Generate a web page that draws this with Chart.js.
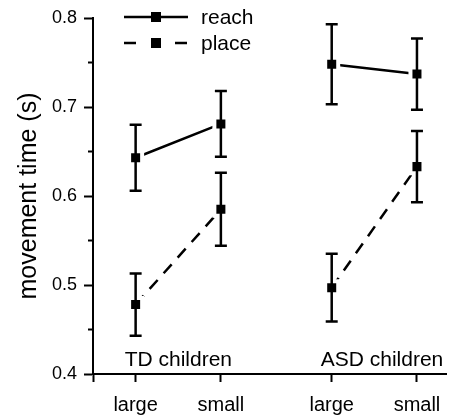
<!DOCTYPE html>
<html lang="en">
  <head>
    <meta charset="UTF-8" />
    <title>Movement time</title>
    <style>
      body { margin: 0; padding: 0; background: #fff; }
      #wrap { width: 460px; height: 417px; }
    </style>
    <script src="https://cdn.jsdelivr.net/npm/chart.js"></script>
  </head>
  <body>
    <div id="wrap"><canvas id="myChart" width="460" height="417"></canvas></div>
    <script>
      // data
      const categories = ['large', 'small', 'large', 'small'];
      const xPos = [1, 2, 3.3, 4.3];
      const groups = ['TD children', 'ASD children'];
      const groupStart = [0, 2]; // index of first category of each group
      const seriesNames = ['reach', 'place'];
      const reach = [0.643, 0.681, 0.748, 0.737];
      const reachErr = [0.037, 0.037, 0.045, 0.040];
      const place = [0.478, 0.585, 0.497, 0.633];
      const placeErr = [0.035, 0.041, 0.038, 0.040];
      const yTicks = [0.4, 0.5, 0.6, 0.7, 0.8];
      const yMinor = [0.45, 0.55, 0.65, 0.75];

      const FONT = 'Arial, "Liberation Sans", sans-serif';

      // one gap point between the groups so the lines are not joined
      function toPoints(vals, errs) {
        const pts = [];
        for (let i = 0; i < vals.length; i++) {
          if (i === 2) pts.push({ x: (xPos[1] + xPos[2]) / 2, y: null });
          pts.push({ x: xPos[i], y: vals[i], err: errs[i] });
        }
        return pts;
      }

      const dashes = [[], [12, 9]];
      const legendDashes = [[], [12, 39]];

      const errorBars = {
        id: 'errorBars',
        afterDatasetsDraw(chart) {
          const ctx = chart.ctx;
          const xs = chart.scales.x;
          const ys = chart.scales.y;
          ctx.save();
          ctx.strokeStyle = '#000';
          ctx.lineWidth = 2.5;
          chart.data.datasets.forEach((ds) => {
            ds.data.forEach((p) => {
              if (p.y === null) return;
              const x = xs.getPixelForValue(p.x);
              const top = ys.getPixelForValue(p.y + p.err);
              const bot = ys.getPixelForValue(p.y - p.err);
              ctx.beginPath();
              ctx.moveTo(x, top);
              ctx.lineTo(x, bot);
              ctx.moveTo(x - 6, top);
              ctx.lineTo(x + 6, top);
              ctx.moveTo(x - 6, bot);
              ctx.lineTo(x + 6, bot);
              ctx.stroke();
            });
          });
          ctx.restore();
        },
      };

      const extras = {
        id: 'extras',
        afterDraw(chart) {
          const ctx = chart.ctx;
          const xs = chart.scales.x;
          const ys = chart.scales.y;
          const left = chart.chartArea.left;
          ctx.save();
          ctx.strokeStyle = '#000';
          ctx.lineWidth = 2;
          // minor ticks on the y axis
          yMinor.forEach((v) => {
            const y = ys.getPixelForValue(v);
            ctx.beginPath();
            ctx.moveTo(left - 5, y);
            ctx.lineTo(left, y);
            ctx.stroke();
          });

          // group labels
          ctx.fillStyle = '#000';
          ctx.font = '21px ' + FONT;
          ctx.textAlign = 'left';
          ctx.textBaseline = 'middle';
          groups.forEach((g, i) => {
            const x = xs.getPixelForValue(xPos[groupStart[i]]) - 11;
            ctx.fillText(g, x, 360);
          });

          // legend
          ctx.lineWidth = 2.5;
          seriesNames.forEach((name, i) => {
            const y = 17 + i * 26;
            ctx.setLineDash(legendDashes[i]);
            ctx.beginPath();
            ctx.moveTo(124, y);
            ctx.lineTo(188, y);
            ctx.stroke();
            ctx.setLineDash([]);
            ctx.fillRect(151, y - 5, 10, 10);
            ctx.fillText(name, 201, y + 1);
          });
          ctx.restore();
        },
      };

      new Chart(document.getElementById('myChart'), {
        type: 'line',
        data: {
          datasets: [
            { label: seriesNames[0], data: toPoints(reach, reachErr), borderDash: dashes[0] },
            { label: seriesNames[1], data: toPoints(place, placeErr), borderDash: dashes[1] },
          ].map((d) => Object.assign(d, {
            borderColor: '#000',
            borderWidth: 2.5,
            backgroundColor: '#000',
            pointStyle: 'rect',
            pointRadius: 9.2,
            pointBorderColor: '#fff',
            pointBorderWidth: 4,
            pointBackgroundColor: '#000',
            spanGaps: false,
            tension: 0,
          })),
        },
        options: {
          responsive: false,
          animation: false,
          devicePixelRatio: 1,
          layout: { padding: { top: 18, right: 0, left: 0, bottom: 0 } },
          plugins: {
            legend: { display: false },
            tooltip: { enabled: false },
          },
          scales: {
            x: {
              type: 'linear',
              min: 0.5,
              max: 4.65,
              afterBuildTicks(scale) {
                scale.ticks = [{ value: 0.5 }].concat(xPos.map((v) => ({ value: v })));
              },
              afterFit(scale) { scale.height = 43; },
              ticks: {
                color: '#000',
                font: { family: FONT, size: 20 },
                padding: 11,
                maxRotation: 0,
                autoSkip: false,
                callback(value) {
                  const i = xPos.indexOf(value);
                  return i < 0 ? '' : categories[i];
                },
              },
              grid: { drawOnChartArea: false, tickLength: 8, tickColor: '#000', tickWidth: 2 },
              border: { color: '#000', width: 2 },
            },
            y: {
              min: 0.4,
              max: 0.8,
              afterBuildTicks(scale) {
                scale.ticks = yTicks.map((v) => ({ value: v }));
              },
              afterFit(scale) { scale.width = 93; },
              ticks: {
                color: '#000',
                font: { family: FONT, size: 18 },
                padding: 7,
                callback: (v) => v.toFixed(1),
              },
              grid: { drawOnChartArea: false, tickLength: 9, tickColor: '#000', tickWidth: 2 },
              border: { color: '#000', width: 2 },
              title: {
                display: true,
                text: 'movement time (s)',
                color: '#000',
                font: { family: FONT, size: 25 },
                padding: { top: 14, bottom: 0 },
              },
            },
          },
        },
        plugins: [errorBars, extras],
      });
    </script>
  </body>
</html>
